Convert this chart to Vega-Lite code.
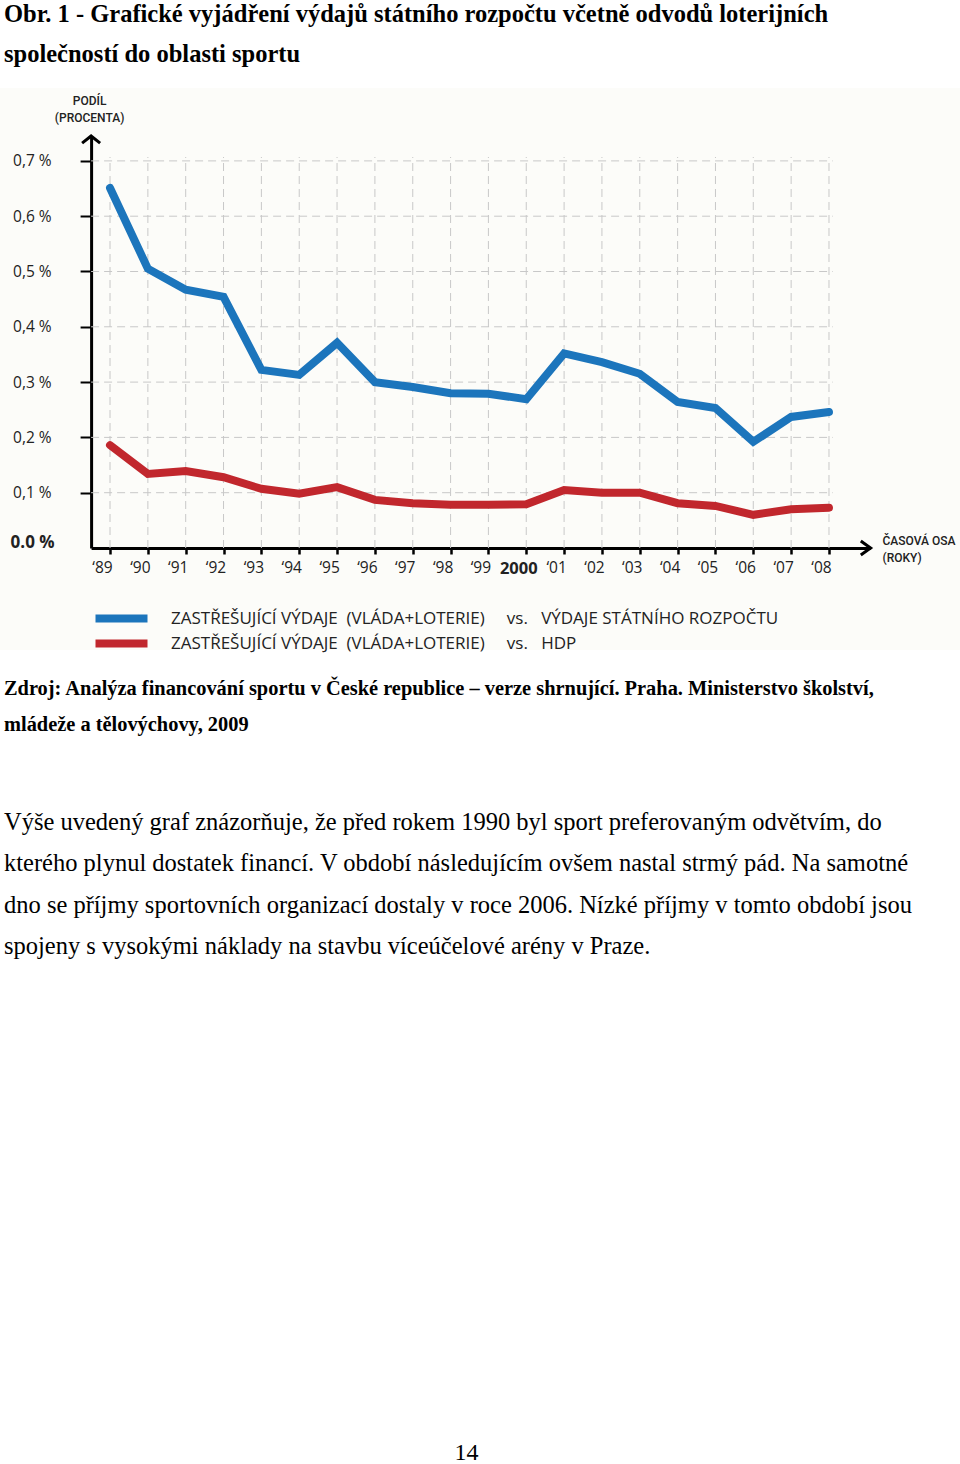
{
  "$schema": "https://vega.github.io/schema/vega-lite/v6.json",
  "padding": 0,
  "spacing": 0,
  "bounds": "flush",
  "background": "white",
  "config": {"view": {"stroke": null}},
  "datasets": {
    "header": [
      {"line": 1, "text": "Obr. 1 - Grafické vyjádření výdajů státního rozpočtu včetně odvodů loterijních"},
      {"line": 2, "text": "společností do oblasti sportu"}
    ],
    "source": [
      {"line": 1, "text": "Zdroj: Analýza financování sportu v České republice – verze shrnující. Praha. Ministerstvo školství,"},
      {"line": 2, "text": "mládeže a tělovýchovy, 2009"}
    ],
    "paragraph": [
      {"line": 1, "text": "Výše uvedený graf znázorňuje, že před rokem 1990 byl sport preferovaným odvětvím, do"},
      {"line": 2, "text": "kterého plynul dostatek financí. V období následujícím ovšem nastal strmý pád. Na samotné"},
      {"line": 3, "text": "dno se příjmy sportovních organizací dostaly v roce 2006. Nízké příjmy v tomto období jsou"},
      {"line": 4, "text": "spojeny s vysokými náklady na stavbu víceúčelové arény v Praze."}
    ],
    "page": [{"text": "14"}],
    "series": [
      {"year": 1989, "series": "A", "value": 0.651},
      {"year": 1990, "series": "A", "value": 0.505},
      {"year": 1991, "series": "A", "value": 0.467},
      {"year": 1992, "series": "A", "value": 0.454},
      {"year": 1993, "series": "A", "value": 0.322},
      {"year": 1994, "series": "A", "value": 0.313},
      {"year": 1995, "series": "A", "value": 0.371},
      {"year": 1996, "series": "A", "value": 0.300},
      {"year": 1997, "series": "A", "value": 0.291},
      {"year": 1998, "series": "A", "value": 0.280},
      {"year": 1999, "series": "A", "value": 0.279},
      {"year": 2000, "series": "A", "value": 0.269},
      {"year": 2001, "series": "A", "value": 0.352},
      {"year": 2002, "series": "A", "value": 0.336},
      {"year": 2003, "series": "A", "value": 0.315},
      {"year": 2004, "series": "A", "value": 0.264},
      {"year": 2005, "series": "A", "value": 0.253},
      {"year": 2006, "series": "A", "value": 0.192},
      {"year": 2007, "series": "A", "value": 0.237},
      {"year": 2008, "series": "A", "value": 0.246},
      {"year": 1989, "series": "B", "value": 0.186},
      {"year": 1990, "series": "B", "value": 0.134},
      {"year": 1991, "series": "B", "value": 0.139},
      {"year": 1992, "series": "B", "value": 0.128},
      {"year": 1993, "series": "B", "value": 0.107},
      {"year": 1994, "series": "B", "value": 0.098},
      {"year": 1995, "series": "B", "value": 0.110},
      {"year": 1996, "series": "B", "value": 0.087},
      {"year": 1997, "series": "B", "value": 0.081},
      {"year": 1998, "series": "B", "value": 0.078},
      {"year": 1999, "series": "B", "value": 0.078},
      {"year": 2000, "series": "B", "value": 0.079},
      {"year": 2001, "series": "B", "value": 0.105},
      {"year": 2002, "series": "B", "value": 0.100},
      {"year": 2003, "series": "B", "value": 0.100},
      {"year": 2004, "series": "B", "value": 0.081},
      {"year": 2005, "series": "B", "value": 0.076},
      {"year": 2006, "series": "B", "value": 0.060},
      {"year": 2007, "series": "B", "value": 0.070},
      {"year": 2008, "series": "B", "value": 0.073}
    ]
  },
  "vconcat": [
    {
      "width": 960,
      "height": 88,
      "data": {"name": "header"},
      "mark": {"type": "text", "align": "left", "baseline": "alphabetic", "font": "Liberation Serif", "fontSize": 24.5, "fontWeight": "bold", "color": "black"},
      "encoding": {
        "x": {"datum": 0, "type": "quantitative", "scale": {"domain": [0, 1], "range": [4, 960], "nice": false, "zero": false}, "axis": null},
        "y": {"field": "line", "type": "quantitative", "scale": {"domain": [1, 2], "range": [21.5, 62], "nice": false, "zero": false}, "axis": null},
        "text": {"field": "text"}
      }
    },
    {
      "width": 960,
      "height": 562,
      "view": {"fill": "#fcfcf9", "stroke": null},
      "layer": [
        {
          "data": {"name": "series"},
          "transform": [{"aggregate": [], "groupby": ["year"]}],
          "mark": {"type": "rule", "stroke": "#c8c8c8", "strokeWidth": 1, "strokeDash": [8, 5]},
          "encoding": {
            "x": {"field": "year", "type": "quantitative"},
            "y": {"datum": 0},
            "y2": {"datum": 0.707}
          }
        },
        {
          "data": {"values": [{"v": 0.1}, {"v": 0.2}, {"v": 0.3}, {"v": 0.4}, {"v": 0.5}, {"v": 0.6}, {"v": 0.7}]},
          "mark": {"type": "rule", "stroke": "#c8c8c8", "strokeWidth": 1, "strokeDash": [8, 5]},
          "encoding": {
            "y": {"field": "v", "type": "quantitative"},
            "x": {"datum": 1988.5},
            "x2": {"datum": 2008.1}
          }
        },
        {
          "data": {"name": "series"},
          "mark": {"type": "line", "strokeWidth": 8, "strokeCap": "round", "strokeJoin": "miter"},
          "encoding": {
            "x": {
              "field": "year", "type": "quantitative",
              "scale": {"domain": [1988.5, 2009.1], "range": [91.1, 870.6], "nice": false, "zero": false},
              "axis": {
                "orient": "bottom", "offset": -102,
                "values": [1989, 1990, 1991, 1992, 1993, 1994, 1995, 1996, 1997, 1998, 1999, 2000, 2001, 2002, 2003, 2004, 2005, 2006, 2007, 2008],
                "labelExpr": "datum.value == 2000 ? '2000' : '‘' + substring(toString(datum.value), 2, 4)",
                "grid": false, "domainColor": "black", "domainWidth": 3,
                "tickColor": "black", "tickWidth": 2.5, "tickSize": 6,
                "labelFont": "Open Sans", "labelFontSize": {"condition": {"test": "datum.value == 2000", "value": 16.5}, "value": 15.5},
                "labelFontWeight": {"condition": {"test": "datum.value == 2000", "value": "bold"}, "value": "normal"},
                "labelOffset": -8,
                "labelColor": "#222", "labelPadding": 6, "labelOverlap": false, "labelFlush": false,
                "title": ["ČASOVÁ OSA", "(ROKY)"], "titleX": 882, "titleY": -4, "titleAlign": "left", "titleBaseline": "alphabetic",
                "titleFont": "Roboto", "titleFontSize": 12, "titleFontWeight": 500, "titleColor": "#222", "titleLineHeight": 17
              }
            },
            "y": {
              "field": "value", "type": "quantitative",
              "scale": {"domain": [0, 0.745], "range": [460, 48], "nice": false, "zero": false},
              "axis": {
                "orient": "left", "offset": -91.1,
                "values": [0, 0.1, 0.2, 0.3, 0.4, 0.5, 0.6, 0.7],
                "labelExpr": "datum.value == 0 ? '0.0 %' : replace(format(datum.value, '.1f'), '.', ',') + ' %'",
                "grid": false, "domainColor": "black", "domainWidth": 3,
                "tickColor": "black", "tickWidth": 2, "tickSize": 11,
                "tickOpacity": {"condition": {"test": "datum.value == 0", "value": 0}, "value": 1},
                "labelFont": "Open Sans", "labelFontSize": {"condition": {"test": "datum.value == 0", "value": 17}, "value": 15.5},
                "labelFontWeight": {"condition": {"test": "datum.value == 0", "value": "bold"}, "value": "normal"},
                "labelOffset": {"condition": {"test": "datum.value == 0", "value": -6}, "value": 0},
                "labelColor": "#222", "labelPadding": {"condition": {"test": "datum.value == 0", "value": 26}, "value": 29}, "labelOverlap": false, "labelFlush": false,
                "title": ["PODÍL", "(PROCENTA)"], "titleAngle": 0, "titleX": -2, "titleY": 16, "titleAlign": "center", "titleBaseline": "alphabetic",
                "titleFont": "Roboto", "titleFontSize": 12, "titleFontWeight": 500, "titleColor": "#222", "titleLineHeight": 17
              }
            },
            "color": {
              "field": "series", "type": "nominal",
              "scale": {"domain": ["A", "B"], "range": ["#1c75bc", "#c1272d"]},
              "legend": {
                "orient": "none", "legendX": 113, "legendY": 610, "title": null, "direction": "vertical",
                "labelExpr": "datum.value == 'A' ? 'ZASTŘEŠUJÍCÍ VÝDAJE\u00a0\u00a0(VLÁDA+LOTERIE)\u00a0\u00a0\u00a0\u00a0\u00a0vs.\u00a0\u00a0\u00a0VÝDAJE STÁTNÍHO ROZPOČTU' : 'ZASTŘEŠUJÍCÍ VÝDAJE\u00a0\u00a0(VLÁDA+LOTERIE)\u00a0\u00a0\u00a0\u00a0\u00a0vs.\u00a0\u00a0\u00a0HDP'",
                "symbolType": "M-13,0H13", "symbolSize": 16, "symbolStrokeWidth": 8,
                "labelFont": "Open Sans", "labelFontSize": 17, "labelColor": "#222", "labelLimit": 1000, "labelOffset": 41,
                "rowPadding": -30
              }
            }
          }
        },
        {
          "data": {"values": [{}]},
          "mark": {"type": "point", "shape": "M-1,0.8L0,0L1,0.8", "size": 324, "filled": false, "stroke": "black", "strokeWidth": 3, "opacity": 1},
          "encoding": {"x": {"datum": 1988.5}, "y": {"datum": 0.745}}
        },
        {
          "data": {"values": [{}]},
          "mark": {"type": "point", "shape": "M-1.4,-1L0,0L-1.4,1", "size": 196, "filled": false, "stroke": "black", "strokeWidth": 3, "opacity": 1},
          "encoding": {"x": {"datum": 2009.1}, "y": {"datum": 0}}
        }
      ]
    },
    {
      "width": 960,
      "height": 814,
      "layer": [
        {
          "data": {"name": "source"},
          "mark": {"type": "text", "align": "left", "baseline": "alphabetic", "font": "Liberation Serif", "fontSize": 20.4, "fontWeight": "bold", "color": "black"},
          "encoding": {
            "x": {"datum": 0, "type": "quantitative", "scale": {"domain": [0, 1], "range": [4, 960], "nice": false, "zero": false}, "axis": null},
            "y": {"field": "line", "type": "quantitative", "scale": {"domain": [1, 2], "range": [45, 81], "nice": false, "zero": false}, "axis": null},
            "text": {"field": "text"}
          }
        },
        {
          "data": {"name": "paragraph"},
          "mark": {"type": "text", "align": "left", "baseline": "alphabetic", "font": "Liberation Serif", "fontSize": 24.5, "color": "black"},
          "encoding": {
            "x": {"datum": 0, "type": "quantitative", "scale": {"domain": [0, 1], "range": [4, 960], "nice": false, "zero": false}, "axis": null},
            "y": {"field": "line", "type": "quantitative", "scale": {"domain": [1, 4], "range": [180, 304], "nice": false, "zero": false}, "axis": null},
            "text": {"field": "text"}
          }
        },
        {
          "data": {"name": "page"},
          "mark": {"type": "text", "align": "center", "baseline": "alphabetic", "font": "Liberation Serif", "fontSize": 24, "color": "black"},
          "encoding": {
            "x": {"datum": 1, "type": "quantitative", "scale": {"domain": [0, 1], "range": [0, 466.5], "nice": false, "zero": false}, "axis": null},
            "y": {"datum": 1, "type": "quantitative", "scale": {"domain": [0, 1], "range": [0, 810], "nice": false, "zero": false}, "axis": null},
            "text": {"field": "text"}
          }
        }
      ],
      "resolve": {"scale": {"x": "independent", "y": "independent"}}
    }
  ]
}
